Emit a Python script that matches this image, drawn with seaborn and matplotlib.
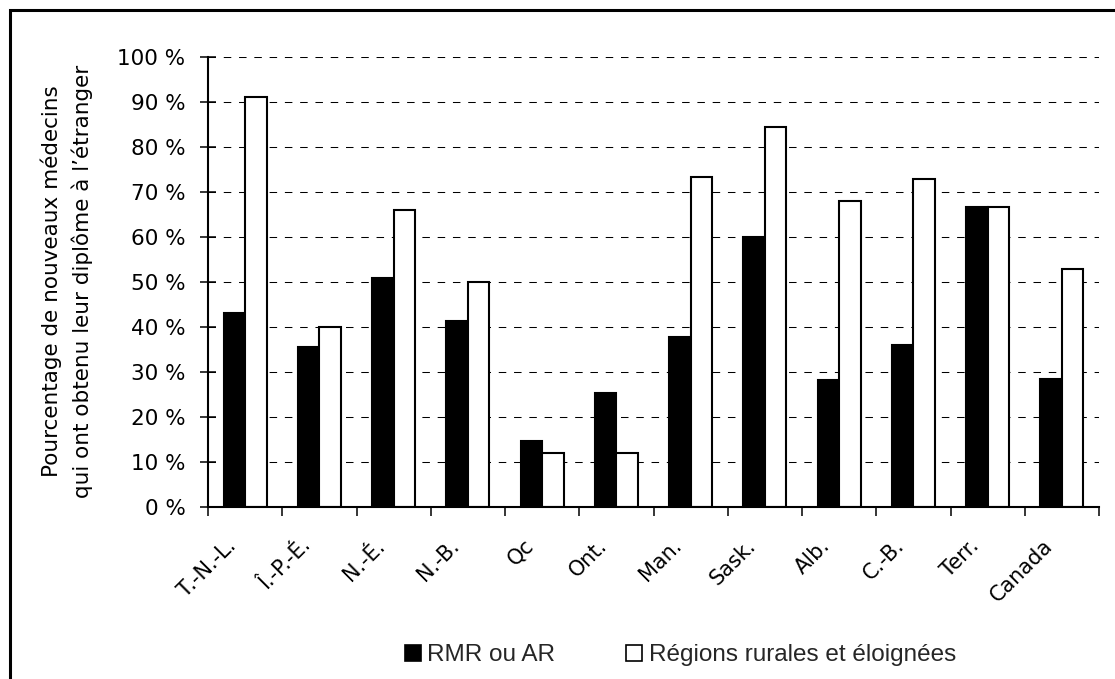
import numpy as np
import pandas as pd
import matplotlib
matplotlib.use("Agg")
import matplotlib.pyplot as plt
import seaborn as sns
from matplotlib.lines import Line2D
from matplotlib.patches import Rectangle
from matplotlib.transforms import ScaledTranslation

# Share of new physicians trained abroad, by province/territory
provinces = ["T.-N.-L.", "Î.-P.-É.", "N.-É.", "N.-B.", "Qc", "Ont.",
             "Man.", "Sask.", "Alb.", "C.-B.", "Terr.", "Canada"]
urban = [43.2, 35.6, 50.8, 41.4, 14.7, 25.4, 37.8, 60.1, 28.2, 36.1, 66.7, 28.5]
rural = [91.1, 40.1, 65.9, 50.0, 11.9, 11.9, 73.4, 84.4, 67.9, 72.8, 66.7, 52.9]
series = ["RMR ou AR", "Régions rurales et éloignées"]
y_ticks = list(range(0, 101, 10))

df = pd.DataFrame({
    "province": provinces * 2,
    "pct": urban + rural,
    "groupe": [series[0]] * len(provinces) + [series[1]] * len(provinces),
})

sns.set_theme(style="white")
plt.rcParams["font.family"] = ["DejaVu Sans"]
plt.rcParams["lines.scale_dashes"] = False

fig = plt.figure(figsize=(11.15, 6.79), dpi=100)
fig.patch.set_facecolor("white")
ax = fig.add_axes([208 / 1115, 1 - 507 / 679, 891 / 1115, 450 / 679])

sns.barplot(data=df, x="province", y="pct", hue="groupe", order=provinces,
            hue_order=series, palette=["black", "white"], saturation=1,
            edgecolor="black", linewidth=1.5, width=0.58, legend=False, ax=ax)

ax.set_xlim(-0.5, len(provinces) - 0.5)
ax.set_ylim(0, 100)

# dashed horizontal grid behind the bars
ax.set_axisbelow(True)
ax.yaxis.grid(True, linestyle=(0, (5.4, 5.6)), color="black", linewidth=0.75)
ax.xaxis.grid(False)

for side in ("top", "right"):
    ax.spines[side].set_visible(False)
for side in ("left", "bottom"):
    ax.spines[side].set_color("black")
    ax.spines[side].set_linewidth(1.5)

# y axis
ax.set_yticks(y_ticks)
ax.set_yticklabels([f"{t} %" for t in y_ticks], fontsize=15.5, color="black")
ax.tick_params(axis="y", direction="inout", length=11.5, width=1.1,
               pad=10.5, colors="black", left=True)

# x axis: separators between categories, rotated names
ax.set_xticks(np.arange(-0.5, len(provinces), 1), minor=True)
ax.tick_params(axis="x", which="minor", direction="out", length=6.5,
               width=1.1, color="black", bottom=True)
ax.set_xticks(range(len(provinces)))
ax.set_xticklabels(provinces, rotation=45, ha="right", va="center",
                   rotation_mode="anchor", fontsize=15, color="black")
ax.tick_params(axis="x", which="major", length=0, pad=25.5)
shift = ScaledTranslation(-12 / 100, 0, fig.dpi_scale_trans)
for lab in ax.get_xticklabels():
    lab.set_transform(lab.get_transform() + shift)

ax.set_xlabel("")
ax.set_ylabel("Pourcentage de nouveaux médecins\nqui ont obtenu leur diplôme à l’étranger",
              fontsize=15.5, color="black", linespacing=1.55,
              rotation=90, ha="center", va="center", rotation_mode="default")
ax.yaxis.set_label_coords((66.5 - 208) / 891, (507 - 281.5) / 450)

# legend below the plot
handles = [
    Line2D([], [], marker="s", linestyle="none", markersize=11,
           markerfacecolor="black", markeredgecolor="black", markeredgewidth=1.2),
    Line2D([], [], marker="s", linestyle="none", markersize=11,
           markerfacecolor="white", markeredgecolor="black", markeredgewidth=1.2),
]
fig.legend(handles, series, loc="center", bbox_to_anchor=(680 / 1115, 1 - 655 / 679),
           ncol=2, frameon=False, handlelength=0.7, handletextpad=0.25,
           columnspacing=2.9, borderaxespad=0, borderpad=0,
           prop={"family": ["Liberation Sans"], "size": 17.5})

# outer frame
fig.add_artist(Rectangle((10 / 1115, -0.5), 2.0, 0.5 + (1 - 9.5 / 679),
                         transform=fig.transFigure, fill=False,
                         edgecolor="black", linewidth=2.2, clip_on=False))

fig.savefig("out.png", dpi=100, facecolor="white")
